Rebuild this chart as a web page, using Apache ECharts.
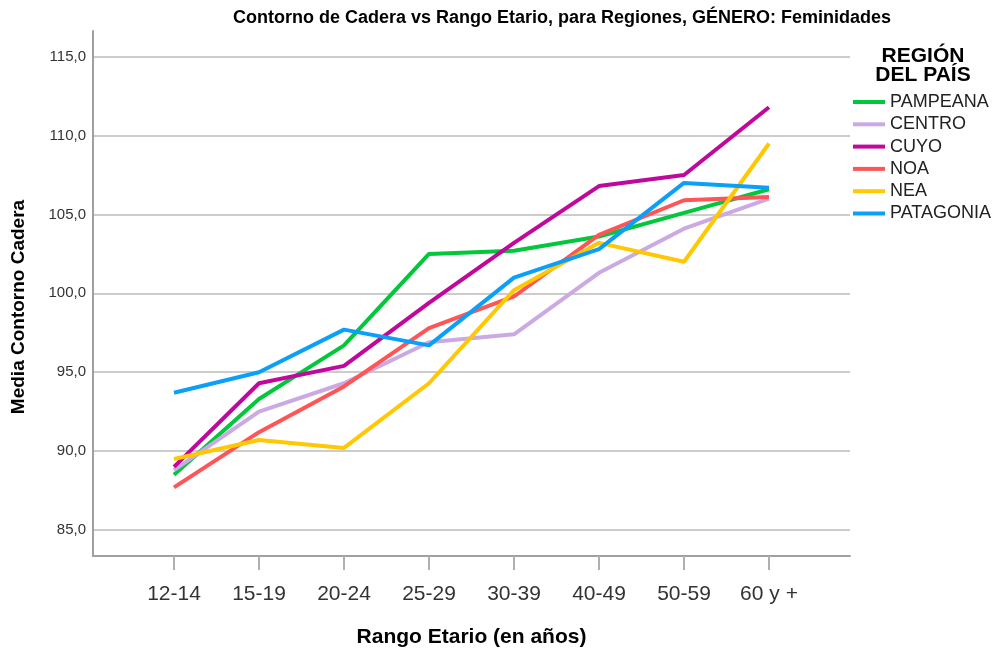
<!DOCTYPE html>
<html>
<head>
<meta charset="utf-8">
<script src="https://cdn.jsdelivr.net/npm/echarts@6/dist/echarts.min.js"></script>
<style>
html,body{margin:0;padding:0;background:#fff;}
#chart{width:993px;height:650px;}
</style>
</head>
<body>
<div id="chart"></div>
<script>
var categories = ['12-14','15-19','20-24','25-29','30-39','40-49','50-59','60 y +'];
var regions = ['PAMPEANA','CENTRO','CUYO','NOA','NEA','PATAGONIA'];
var pampeana  = [88.5, 93.3, 96.7, 102.5, 102.7, 103.6, 105.1, 106.6];
var centro    = [88.8, 92.5, 94.3, 96.9, 97.4, 101.3, 104.1, 106.0];
var cuyo      = [89.0, 94.3, 95.4, 99.4, 103.2, 106.8, 107.5, 111.8];
var noa       = [87.7, 91.2, 94.1, 97.8, 99.8, 103.7, 105.9, 106.1];
var nea       = [89.5, 90.7, 90.2, 94.3, 100.2, 103.2, 102.0, 109.5];
var patagonia = [93.7, 95.0, 97.7, 96.7, 101.0, 102.8, 107.0, 106.7];
var seriesValues = [pampeana, centro, cuyo, noa, nea, patagonia];
var colors = ['#00c83a', '#cba9e3', '#c0089c', '#ff5557', '#ffc800', '#0aa0fa'];

var yMin = 83.35, yMax = 116.63;
var FONT = '"Liberation Sans", Arial, sans-serif';

var chart = echarts.init(document.getElementById('chart'), null, {renderer: 'canvas'});

var series = regions.map(function (name, i) {
  return {
    name: name,
    type: 'line',
    xAxisIndex: 0,
    yAxisIndex: 0,
    data: seriesValues[i],
    showSymbol: false,
    symbol: 'none',
    lineStyle: {width: 4, color: colors[i]},
    itemStyle: {color: colors[i]},
    z: 3
  };
});

var option = {
  animation: false,
  backgroundColor: '#ffffff',
  textStyle: {fontFamily: FONT},
  title: [
    {
      text: 'Contorno de Cadera vs Rango Etario, para Regiones, GÉNERO: Feminidades',
      left: 233, top: 9, padding: 0,
      textStyle: {fontFamily: FONT, fontSize: 18, fontWeight: 'bold', color: '#000', lineHeight: 18}
    },
    {
      text: 'REGIÓN\nDEL PAÍS',
      left: 923, top: 47, textAlign: 'center', padding: 0,
      textStyle: {fontFamily: FONT, fontSize: 21, fontWeight: 'bold', color: '#000', lineHeight: 19}
    }
  ],
  graphic: [
    {
      type: 'text', x: 19, y: 307, rotation: Math.PI / 2,
      style: {
        text: 'Media Contorno Cadera', align: 'center', verticalAlign: 'middle',
        font: 'bold 19px "Liberation Sans", Arial, sans-serif', fill: '#000'
      }
    }
  ],
  legend: {
    data: regions,
    orient: 'vertical',
    left: 853, top: 93, padding: 0,
    icon: 'rect',
    itemWidth: 32, itemHeight: 4,
    itemGap: 4.3,
    textStyle: {fontFamily: FONT, fontSize: 18, color: '#222', lineHeight: 18}
  },
  grid: [
    {left: 174, right: 224, top: 31, bottom: 94, containLabel: false, outerBoundsMode: 'none'},
    {left: 93, right: 143, top: 31, bottom: 94, containLabel: false, outerBoundsMode: 'none'}
  ],
  xAxis: [
    {
      type: 'category', gridIndex: 0, data: categories, boundaryGap: false,
      axisLine: {show: false},
      axisTick: {show: true, length: 14, inside: false, lineStyle: {color: '#b0b0b0', width: 2}},
      axisLabel: {fontFamily: FONT, fontSize: 21, color: '#333', margin: 28, interval: 0},
      splitLine: {show: false},
      name: 'Rango Etario (en años)', nameLocation: 'middle', nameGap: 71,
      nameTextStyle: {fontFamily: FONT, fontSize: 21, fontWeight: 'bold', color: '#000'}
    },
    {
      type: 'value', gridIndex: 1, min: 0, max: 1,
      axisLine: {show: true, onZero: false, lineStyle: {color: '#a0a0a0', width: 2}},
      axisTick: {show: false}, axisLabel: {show: false}, splitLine: {show: false}
    }
  ],
  yAxis: [
    {
      type: 'value', gridIndex: 0, min: yMin, max: yMax, show: false,
      splitLine: {show: false}
    },
    {
      type: 'value', gridIndex: 1, min: yMin, max: yMax, splitNumber: 6,
      axisLine: {show: true, onZero: false, lineStyle: {color: '#a0a0a0', width: 2}},
      axisTick: {show: false},
      axisLabel: {
        fontFamily: FONT, fontSize: 15, color: '#333', margin: 7,
        showMinLabel: false, showMaxLabel: false,
        formatter: function (v) { return v.toFixed(1).replace('.', ','); }
      },
      splitLine: {show: true, showMinLine: false, showMaxLine: false, lineStyle: {color: '#cccccc', width: 2}}
    }
  ],
  series: series
};
chart.setOption(option);
</script>
</body>
</html>
